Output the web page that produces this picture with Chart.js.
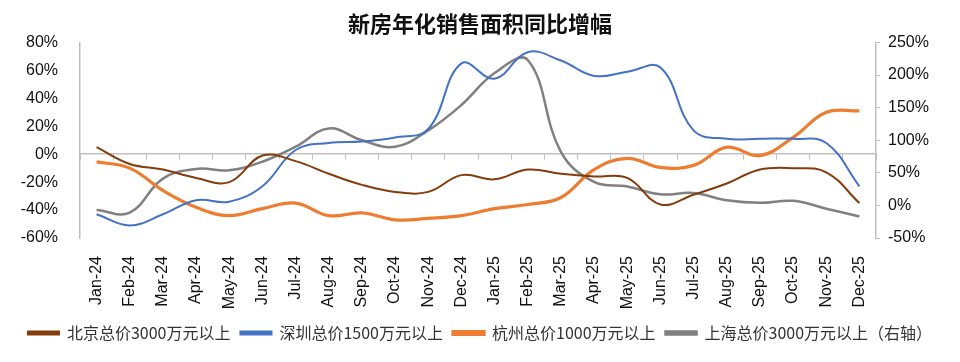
<!DOCTYPE html>
<html>
<head>
<meta charset="utf-8">
<script src="https://cdn.jsdelivr.net/npm/chart.js@4"></script>
<style>
  html, body { margin: 0; padding: 0; background: #fff; }
  #wrap { width: 960px; height: 362px; }
</style>
</head>
<body>
<div id="wrap"><canvas id="salesChart" width="960" height="362"></canvas></div>
<script>
var months = ['Jan-24','Feb-24','Mar-24','Apr-24','May-24','Jun-24','Jul-24','Aug-24','Sep-24','Oct-24','Nov-24','Dec-24',
  'Jan-25','Feb-25','Mar-25','Apr-25','May-25','Jun-25','Jul-25','Aug-25','Sep-25','Oct-25','Nov-25','Dec-25'];

// left axis (%)
var beijing = [5, -7, -11, -17, -20, -1, -5, -14, -22, -27, -27, -15, -18, -11, -14, -16, -17, -36, -29, -21, -11, -10, -13, -35];
var shenzhen = [-43, -51, -43, -33, -34, -23, 3, 8, 9, 12, 18, 65, 54, 73, 67, 56, 59, 62, 17, 11, 11, 11, 8, -23];
var hangzhou = [-5.5, -10, -26, -38, -44, -39, -35, -44, -42, -47, -46, -44, -39, -36, -31, -11, -3, -9.5, -8, 5, -1, 12, 30, 31];
// right axis (%)
var shanghai = [-7, -11, 41, 56, 54, 67, 90, 118, 100, 90, 115, 154, 203, 223, 82, 36, 29, 17, 19, 8, 4, 7, -5, -17];

var leftTicks = [-60, 80, 20];   // min, max, step
var rightTicks = [-50, 250, 50];

var seriesNames = ['北京总价3000万元以上', '深圳总价1500万元以上', '杭州总价1000万元以上', '上海总价3000万元以上（右轴）'];

var axisGray = '#bfbfbf';
var pct = function(v) { return v + '%'; };

function line(label, data, color, width, axis) {
  return {
    label: label,
    data: data,
    borderColor: color,
    backgroundColor: color,
    borderWidth: width,
    pointRadius: 0,
    tension: 0.4,
    yAxisID: axis,
    xAxisID: 'x'
  };
}

var ctx = document.getElementById('salesChart');
var chart = new Chart(ctx, {
  type: 'line',
  data: {
    labels: months,
    datasets: [
      line(seriesNames[0], beijing, '#843C0C', 2, 'y'),
      line(seriesNames[1], shenzhen, '#4472C4', 2, 'y'),
      line(seriesNames[2], hangzhou, '#ED7D31', 3.2, 'y'),
      line(seriesNames[3], shanghai, '#808080', 2.5, 'y2')
    ]
  },
  options: {
    responsive: false,
    animation: false,
    layout: { padding: { left: 0, right: 0, top: 0, bottom: 11 } },
    plugins: {
      title: {
        display: true,
        text: '新房年化销售面积同比增幅',
        color: '#111',
        font: { family: '"Noto Sans CJK SC", sans-serif', size: 22, weight: 'bold' },
        padding: { top: 10, bottom: 6 }
      },
      legend: {
        position: 'bottom',
        labels: {
          boxWidth: 31,
          boxHeight: 3,
          padding: 10,
          color: '#333',
          font: { family: '"Noto Sans CJK SC", sans-serif', size: 16 }
        }
      },
      tooltip: { enabled: false }
    },
    scales: {
      x: {
        type: 'category',
        position: 'bottom',
        offset: true,
        grid: { display: false },
        border: { display: false },
        ticks: {
          minRotation: 90, maxRotation: 90,
          padding: 10,
          color: '#111',
          font: { family: '"Liberation Sans", Arial, sans-serif', size: 16 }
        },
        afterFit: function(s) { s.height = 77; }
      },
      x0: {
        type: 'category',
        position: { y: 0 },
        offset: true,
        grid: { offset: true, drawOnChartArea: false, drawTicks: true, tickLength: 5, color: axisGray },
        border: { display: true, color: axisGray, width: 1.5 },
        ticks: { display: false }
      },
      y: {
        position: 'left',
        min: leftTicks[0], max: leftTicks[1],
        grid: { display: false },
        border: { display: true, color: axisGray, width: 1.5 },
        ticks: {
          stepSize: leftTicks[2],
          callback: pct,
          padding: 14,
          color: '#111',
          font: { family: '"Liberation Sans", Arial, sans-serif', size: 16 }
        },
        afterFit: function(s) { s.width = 80; }
      },
      y2: {
        position: 'right',
        min: rightTicks[0], max: rightTicks[1],
        grid: { drawOnChartArea: false, drawTicks: true, tickLength: 4, color: axisGray },
        border: { display: true, color: axisGray, width: 1.5 },
        ticks: {
          stepSize: rightTicks[2],
          callback: pct,
          padding: 8,
          color: '#111',
          font: { family: '"Liberation Sans", Arial, sans-serif', size: 16 }
        },
        afterFit: function(s) { s.width = 84; }
      }
    }
  }
});
</script>
</body>
</html>
